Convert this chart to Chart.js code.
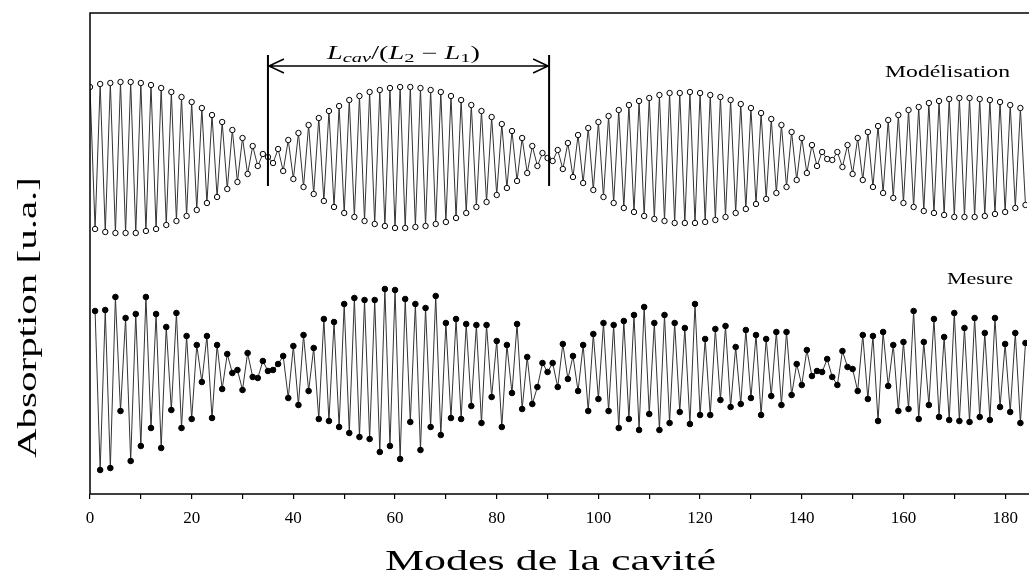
<!DOCTYPE html>
<html>
<head>
<meta charset="utf-8">
<script src="https://cdn.jsdelivr.net/npm/chart.js@4/dist/chart.umd.min.js"></script>
<style>
  html, body { margin: 0; padding: 0; background: #fff; }
  #wrap { width: 1032px; height: 577px; }
</style>
</head>
<body>
<div id="wrap"><canvas id="c" width="1032" height="577"></canvas></div>
<script>
// Absorption (u.a.) pour chaque mode de la cavité
const modelisation = [
  407, 265, 410, 262, 411, 261, 412, 261, 412, 261,
  411, 263, 409, 265, 406, 269, 402, 273, 397, 278,
  392, 284, 386, 291, 379, 297, 372, 305, 364, 312,
  356, 320, 348, 328, 340, 337, 331, 345, 323, 354,
  315, 361, 307, 369, 300, 376, 293, 383, 287, 388,
  281, 394, 277, 398, 273, 402, 270, 404, 268, 406,
  266, 407, 266, 407, 267, 406, 268, 404, 270, 402,
  272, 398, 276, 394, 281, 389, 287, 383, 292, 377,
  299, 370, 306, 363, 313, 356, 321, 348, 328, 341,
  336, 333, 344, 325, 351, 317, 359, 311, 366, 304,
  372, 297, 378, 291, 384, 286, 389, 282, 393, 278,
  396, 275, 399, 273, 401, 271, 401, 271, 402, 271,
  401, 272, 399, 274, 397, 277, 394, 281, 390, 285,
  386, 290, 381, 295, 375, 301, 369, 307, 362, 314,
  356, 321, 349, 328, 342, 335, 334, 342, 327, 349,
  320, 356, 314, 362, 307, 368, 301, 374, 296, 379,
  291, 384, 287, 387, 283, 391, 281, 393, 279, 395,
  277, 396, 277, 396, 277, 395, 278, 394, 280, 392,
  282, 389, 286, 386, 289
];
const mesure = [
  null, 183, 24, 184, 26, 197, 83, 176, 33, 180,
  48, 197, 66, 180, 46, 167, 84, 181, 66, 158,
  75, 149, 112, 158, 76, 149, 105, 140, 121, 124,
  104, 141, 117, 116, 133, 123, 124, 130, 138, 96,
  148, 89, 159, 103, 146, 75, 175, 73, 172, 67,
  190, 61, 196, 57, 194, 55, 194, 42, 205, 48,
  204, 35, 195, 72, 190, 44, 186, 67, 198, 59,
  171, 76, 175, 75, 170, 88, 169, 71, 169, 97,
  153, 67, 149, 101, 170, 85, 137, 90, 107, 131,
  122, 131, 107, 150, 115, 138, 103, 149, 83, 160,
  95, 171, 83, 169, 66, 173, 75, 179, 64, 187,
  80, 171, 64, 179, 71, 171, 82, 166, 70, 190,
  79, 155, 79, 165, 94, 168, 87, 147, 90, 164,
  96, 159, 79, 155, 98, 162, 89, 162, 99, 130,
  109, 144, 118, 123, 122, 135, 117, 109, 143, 127,
  125, 103, 159, 95, 158, 73, 162, 108, 149, 83,
  152, 85, 183, 75, 152, 89, 175, 77, 157, 74,
  181, 73, 166, 72, 176, 77, 161, 74, 176, 87,
  150, 82, 161, 71, 151
];
const xTicks = [0, 20, 40, 60, 80, 100, 120, 140, 160, 180];
// intervalle L_cav/(L_2 - L_1) entre deux noeuds
const intervalle = [35, 90.3];

const SERIF = '"Liberation Serif", "DejaVu Serif", serif';

// texte étiré horizontalement pour imiter la police LaTeX de l'original
function texteEtire(ctx, parts, left, baseline, width) {
  let total = 0;
  parts.forEach(p => { ctx.font = p.f; p.w = ctx.measureText(p.t).width; total += p.w; });
  ctx.save();
  ctx.translate(left, baseline);
  ctx.scale(width / total, 1);
  ctx.fillStyle = '#000';
  ctx.textAlign = 'left';
  ctx.textBaseline = 'alphabetic';
  let x = 0;
  parts.forEach(p => { ctx.font = p.f; ctx.fillText(p.t, x, p.dy || 0); x += p.w; });
  ctx.restore();
}

const decor = {
  id: 'decor',
  afterDraw(chart) {
    const { ctx, chartArea: a, scales } = chart;
    ctx.save();
    // cadre
    ctx.strokeStyle = '#000';
    ctx.lineWidth = 1.5;
    ctx.beginPath();
    ctx.moveTo(a.right + 2, a.top);
    ctx.lineTo(a.left, a.top);
    ctx.lineTo(a.left, a.bottom);
    ctx.lineTo(a.right + 2, a.bottom);
    ctx.stroke();

    // flèche entre les deux noeuds
    const x1 = scales.x.getPixelForValue(intervalle[0]);
    const x2 = scales.x.getPixelForValue(intervalle[1]);
    const yTop = scales.y.getPixelForValue(439);
    const yBas = scales.y.getPixelForValue(308);
    const yFl = scales.y.getPixelForValue(428);
    ctx.lineWidth = 2;
    ctx.beginPath();
    ctx.moveTo(x1, yTop); ctx.lineTo(x1, yBas);
    ctx.moveTo(x2, yTop); ctx.lineTo(x2, yBas);
    ctx.stroke();
    ctx.lineWidth = 1.5;
    ctx.beginPath();
    ctx.moveTo(x1, yFl); ctx.lineTo(x2, yFl);
    ctx.moveTo(x1 + 16, yFl - 7); ctx.lineTo(x1 + 1, yFl); ctx.lineTo(x1 + 16, yFl + 7);
    ctx.moveTo(x2 - 16, yFl - 7); ctx.lineTo(x2 - 1, yFl); ctx.lineTo(x2 - 16, yFl + 7);
    ctx.stroke();
    ctx.restore();

    const it = 'italic 18px ' + SERIF, rm = '18px ' + SERIF;
    const itS = 'italic 13px ' + SERIF, rmS = '13px ' + SERIF;
    texteEtire(ctx, [
      { t: 'L', f: it }, { t: 'cav', f: itS, dy: 3 }, { t: '/(', f: rm },
      { t: 'L', f: it }, { t: '2', f: rmS, dy: 3 }, { t: ' \u2212 ', f: rm },
      { t: 'L', f: it }, { t: '1', f: rmS, dy: 3 }, { t: ')', f: rm }
    ], 327, 59, 153);

    texteEtire(ctx, [{ t: 'Modélisation', f: '17px ' + SERIF }], 885, 77, 125);
    texteEtire(ctx, [{ t: 'Mesure', f: '17px ' + SERIF }], 947, 284, 66);

    // titres des axes
    texteEtire(ctx, [{ t: 'Modes de la cavité', f: '29px ' + SERIF }], 385, 570, 331);
    ctx.save();
    ctx.translate(36, 458);
    ctx.rotate(-Math.PI / 2);
    texteEtire(ctx, [{ t: 'Absorption [u.a.]', f: '28px ' + SERIF }], 0, 0, 281);
    ctx.restore();
  }
};

new Chart(document.getElementById('c'), {
  type: 'line',
  data: {
    datasets: [
      {
        label: 'Modélisation',
        data: modelisation.map((v, i) => ({ x: i, y: v })),
        borderColor: '#333',
        borderWidth: 1,
        pointRadius: 2.7,
        pointBorderWidth: 1,
        pointBorderColor: '#000',
        pointBackgroundColor: '#fff',
        tension: 0
      },
      {
        label: 'Mesure',
        data: mesure.map((v, i) => ({ x: i, y: v })),
        borderColor: '#333',
        borderWidth: 1,
        pointRadius: 2.8,
        pointBorderWidth: 1,
        pointBorderColor: '#000',
        pointBackgroundColor: '#000',
        spanGaps: false,
        tension: 0
      }
    ]
  },
  options: {
    responsive: false,
    animation: false,
    layout: { padding: { left: 0, top: 13, right: 0, bottom: 0 } },
    plugins: { legend: { display: false }, tooltip: { enabled: false } },
    scales: {
      x: {
        type: 'linear',
        min: 0,
        max: 184.3,
        afterFit: (s) => { s.height = 83; },
        border: { display: false },
        grid: { display: true, drawOnChartArea: false, drawTicks: true, tickLength: 5, color: '#000', lineWidth: 1.2 },
        ticks: {
          stepSize: 10,
          includeBounds: false,
          maxRotation: 0,
          autoSkip: false,
          padding: 9,
          color: '#000',
          font: { family: SERIF, size: 17 },
          callback: (v) => xTicks.includes(v) ? String(v) : ''
        }
      },
      y: {
        min: 0,
        max: 481,
        afterFit: (s) => { s.width = 90; },
        border: { display: false },
        grid: { display: false },
        ticks: { display: false }
      }
    }
  },
  plugins: [decor]
});
</script>
</body>
</html>
